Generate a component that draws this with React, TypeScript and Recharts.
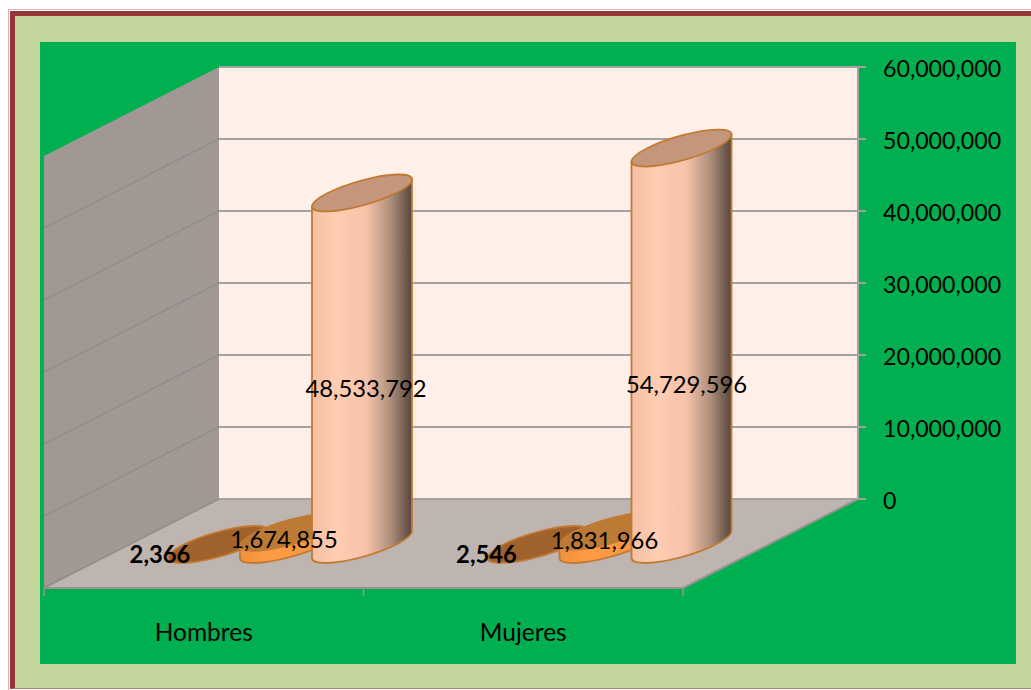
import { BarChart, Bar, XAxis, YAxis, CartesianGrid, LabelList } from 'recharts'

const categories = ['Hombres', 'Mujeres']
const serieA = [2366, 2546]
const serieB = [1674855, 1831966]
const serieC = [48533792, 54729596]
const yTicks = [0, 10000000, 20000000, 30000000, 40000000, 50000000, 60000000]

const data = categories.map((name, i) => ({ name, a: serieA[i], b: serieB[i], c: serieC[i] }))

const fontFamily = 'Lato, Carlito, sans-serif'
const fmt = (v: number) => v.toLocaleString('en-US')

// the 3D box: depth of the left wall and floor
const plot = { left: 219, right: 858, top: 67, bottom: 499 }
const depthX = 175
const depthY = 89
const gridColor = '#a2a2a2'

// the cylinders stand half way into the box, and look a touch taller from the front
const standX = -89
const standY = 45.5
const stretch = 1.006
const rx = 50
const ry = 12.6
const slant = 'matrix(1,-0.27,0,1,'

function Cylinder({ x, y, width, height, face, top }: any) {
  const cx = x + width / 2 + standX
  const yb = y + height + standY
  const rise = height * stretch
  return (
    <g transform={`${slant}${cx},${yb})`}>
      {height > 1 && (
        <path
          d={`M${-rx} ${-rise}L${-rx} 0A${rx} ${ry} 0 0 0 ${rx} 0L${rx} ${-rise}Z`}
          fill={face}
          stroke="#c17a33"
          strokeWidth={1.8}
        />
      )}
      <ellipse cx={0} cy={-rise} rx={rx} ry={ry} fill={top} stroke="#c17a33" strokeWidth={1.8} />
    </g>
  )
}

// labels all hang on the last bar so they sit above every cylinder
function barLabel(dx: number[], dy: number[], bold?: boolean) {
  return ({ x, y, width, height, value, index }: any) => (
    <text
      x={x + width / 2 + dx[index]}
      y={y + height + dy[index]}
      textAnchor="middle"
      dominantBaseline="central"
      fontFamily={fontFamily}
      fontSize={23.8}
      fontWeight={bold ? 700 : 400}
      fill="#000"
    >
      {fmt(value)}
    </text>
  )
}

function GridLine({ x1, y1, x2, y2 }: any) {
  return (
    <g>
      <line x1={x1} y1={y1} x2={x2} y2={y2} stroke={gridColor} strokeWidth={2} />
      {y1 > plot.top && y1 < plot.bottom && (
        <line x1={x1} y1={y1} x2={x1 - depthX} y2={y1 + depthY} stroke="#8d8f8e" strokeWidth={1.5} />
      )}
    </g>
  )
}

function CategoryTick({ x, payload }: any) {
  return (
    <text x={x - 175} y={631} textAnchor="middle" dominantBaseline="central" fontFamily={fontFamily} fontSize={24.5} fill="#000">
      {payload.value}
    </text>
  )
}

function ValueTick({ x, y, payload }: any) {
  return (
    <text x={x} y={y + 1} textAnchor="start" dominantBaseline="central" fontFamily={fontFamily} fontSize={23.2} fill="#000">
      {fmt(payload.value)}
    </text>
  )
}

function Box() {
  const { left, right, top, bottom } = plot
  const frontY = bottom + depthY
  const frontL = left - depthX
  const frontR = right - depthX
  const frontMid = (frontL + frontR) / 2
  return (
    <svg width={1031} height={690} style={{ position: 'absolute', left: 0, top: 0 }}>
      <defs>
        <linearGradient id="cylFace" x1="0" y1="0" x2="1" y2="0">
          <stop offset="0" stopColor="#f5bfa3" />
          <stop offset="0.25" stopColor="#ffcdb2" />
          <stop offset="0.55" stopColor="#f6c2a8" />
          <stop offset="0.78" stopColor="#b0917e" />
          <stop offset="1" stopColor="#57463b" />
        </linearGradient>
        <linearGradient id="discFace" x1="0" y1="0" x2="1" y2="0">
          <stop offset="0" stopColor="#f0913f" />
          <stop offset="0.3" stopColor="#ff9b45" />
          <stop offset="1" stopColor="#f59440" />
        </linearGradient>
      </defs>
      <rect x={left} y={top} width={right - left} height={bottom - top} fill="#fef0e8" />
      <polygon points={`${frontL},${top + depthY} ${left},${top} ${left},${bottom} ${frontL},${frontY}`} fill="#a19893" />
      <polygon points={`${frontL},${frontY} ${left},${bottom} ${right},${bottom} ${frontR},${frontY}`} fill="#bfb5b0" />
      <line x1={left} y1={bottom} x2={frontL} y2={frontY} stroke="#8d8f8e" strokeWidth={1.5} />
      <line x1={right} y1={bottom} x2={frontR} y2={frontY} stroke="#979393" strokeWidth={2} />
      <line x1={frontL} y1={frontY} x2={frontR} y2={frontY} stroke="#979393" strokeWidth={2} />
      {[frontL, frontMid, frontR].map(tx => (
        <line key={tx} x1={tx} y1={frontY} x2={tx} y2={frontY + 8} stroke="#979393" strokeWidth={1.5} />
      ))}
    </svg>
  )
}

export default function App() {
  return (
    <div style={{ position: 'absolute', left: 0, top: 0, width: 1031, height: 690, overflow: 'hidden', background: '#fff' }}>
      <div style={{ position: 'absolute', left: 8, top: 9, width: 1040, height: 681, boxSizing: 'border-box', border: '1px solid #dcb0ae', borderBottom: 'none', padding: 1, background: '#fff' }}>
        <div style={{ width: '100%', height: '100%', boxSizing: 'border-box', borderStyle: 'solid', borderColor: '#953735', borderWidth: '5px 5px 1px 5px', borderBottomColor: '#a08a6e', background: '#c3d69b' }} />
      </div>
      <div style={{ position: 'absolute', left: 40, top: 42, width: 976, height: 622, background: '#00b050' }} />
      <Box />
      <div style={{ position: 'absolute', left: 0, top: 0 }}>
        <BarChart
          width={1031}
          height={690}
          data={data}
          margin={{ top: plot.top, right: 0, bottom: 0, left: plot.left }}
          barSize={72}
          barGap={0}
          barCategoryGap={0}
        >
          <CartesianGrid vertical={false} horizontal={(p: any) => <GridLine key={p.key} {...p} />} />
          <XAxis dataKey="name" height={191} axisLine={false} tickLine={false} tick={<CategoryTick />} interval={0} />
          <YAxis
            orientation="right"
            width={173}
            domain={[0, 60000000]}
            ticks={yTicks}
            interval={0}
            axisLine={{ stroke: gridColor, strokeWidth: 2 }}
            tickLine={{ stroke: gridColor, strokeWidth: 2 }}
            tickSize={8}
            tickMargin={17}
            tick={<ValueTick />}
          />
          <Bar dataKey="a" isAnimationActive={false} shape={(p: any) => <Cylinder {...p} face="#a0622c" top="#a0622c" />} />
          <Bar dataKey="b" isAnimationActive={false} shape={(p: any) => <Cylinder {...p} face="url(#discFace)" top="#bd7a35" />} />
          <Bar dataKey="c" isAnimationActive={false} shape={(p: any) => <Cylinder {...p} face="url(#cylFace)" top="#c4967c" />}>
            <LabelList dataKey="a" content={barLabel([-291, -284], [55, 55], true)} />
            <LabelList dataKey="b" content={barLabel([-167, -166], [40, 41])} />
            <LabelList dataKey="c" content={barLabel([-85, -84], [-111, -115])} />
          </Bar>
        </BarChart>
      </div>
    </div>
  )
}
